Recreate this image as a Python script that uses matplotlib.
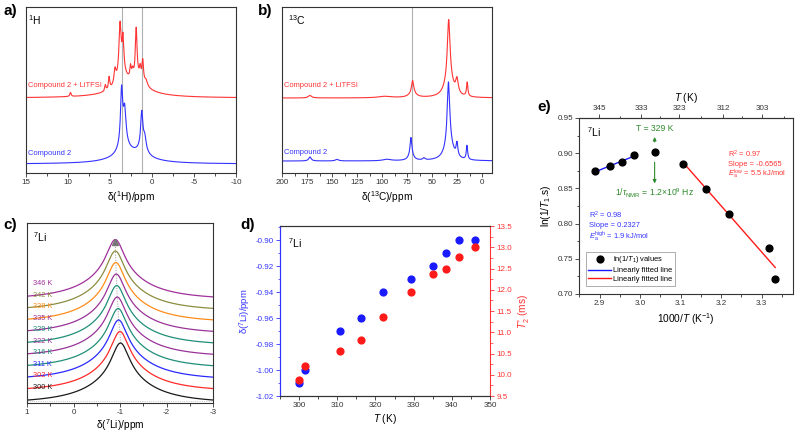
import numpy as np
import matplotlib.pyplot as plt

plt.rcParams['font.family'] = ['Liberation Sans', 'DejaVu Sans']
plt.rcParams['mathtext.fontset'] = 'custom'
plt.rcParams['mathtext.rm'] = 'Liberation Sans'
plt.rcParams['mathtext.it'] = 'Liberation Sans:italic'
plt.rcParams['mathtext.bf'] = 'Liberation Sans:bold'
plt.rcParams['axes.unicode_minus'] = False

# ---------------- data ----------------
# 1H spectra: peak tables (position ppm, height, half width ppm)
h1_ref_pos = [3.62, 3.25, 1.22, 0.85, 3.4, 1.1, 2.5]
h1_ref_amp = [52, 30, 33, 10, 14, 10, 10]
h1_ref_wid = [0.15, 0.18, 0.15, 0.18, 0.6, 0.5, 2.5]

h1_li_pos = [9.7, 5.55, 5.1, 4.4, 3.8, 3.45, 2.55, 2.3, 1.88, 1.4, 1.1, 0.7, 3.5, 1.5, 2.5]
h1_li_amp = [4, 6, 12, 14, 52, 33, 12, 8, 50, 10, 20, 5, 14, 10, 8]
h1_li_wid = [0.09, 0.09, 0.09, 0.14, 0.16, 0.12, 0.1, 0.12, 0.12, 0.1, 0.1, 0.18, 0.8, 0.8, 3.0]

h1_marks = [3.57, 1.2]

# 13C spectra
c13_ref_pos = [33.5, 33.0, 25.0, 15.0, 71.0, 71.0, 58.0, 172.0, 145.0, 95.0]
c13_ref_amp = [62, 17, 13, 14, 18, 5, 2, 4, 1.5, 1.5]
c13_ref_wid = [1.5, 5.0, 1.0, 0.8, 1.1, 3.0, 1.5, 1.5, 2.0, 5.0]

c13_li_pos = [33.3, 33.0, 25.0, 14.8, 69.3, 69.5, 172.0, 97.0]
c13_li_amp = [60, 18, 14, 14, 12, 5, 2.5, 1.5]
c13_li_wid = [1.6, 5.0, 1.5, 0.8, 1.2, 4.0, 2.0, 8.0]

c13_marks = [70.3]

# 7Li variable temperature
temp_labels = [300, 302, 311, 316, 322, 329, 335, 338, 342, 346]
temp_meas = [300.0, 301.5, 310.6, 316.1, 321.9, 329.4, 335.1, 338.4, 341.9, 346.2]
li_shift = [-1.01, -1.00, -0.97, -0.96, -0.94, -0.93, -0.92, -0.91, -0.90, -0.90]
t2_star = [9.88, 10.21, 10.57, 10.81, 11.35, 11.95, 12.38, 12.50, 12.77, 13.00]
li_colors = ['#1a1a1a', '#ff2a2a', '#2a2aff', '#1f8f78', '#993399',
             '#1f8f78', '#993399', '#ff8c1a', '#8c8c40', '#a0309a']
# line shape: narrow + broad Lorentzian (height, half width)
li_amp = [36, 25]
li_wid = [0.24, 0.8]

# T1 relaxation
ln_inv_t1 = [0.722, 0.765, 0.813, 0.849, 0.885, 0.902, 0.897, 0.887, 0.8816, 0.874]
top_temps = [345, 333, 323, 312, 303]

TICK = 5.8
LAB = 7.3
ANN = 5.4


def lorentz_sum(x, pos, amp, wid):
    y = np.zeros_like(x)
    for p, a, w in zip(pos, amp, wid):
        y += a / (1 + ((x - p) / w) ** 2)
    return y


def frame(ax, col='#333333'):
    for s in ax.spines.values():
        s.set_color(col)
        s.set_linewidth(0.8)
    ax.tick_params(colors='#333333', labelsize=TICK, length=3, width=0.6, pad=1.5)
    ax.tick_params(which='minor', length=1.8, width=0.5)


fig = plt.figure(figsize=(8, 4.36), dpi=100)

# ---------------- a) 1H ----------------
ax_a = fig.add_axes([0.0325, 0.6032, 0.2625, 0.3807])
xh = np.linspace(-10, 15, 4000)
ax_a.plot(xh, 9 + lorentz_sum(xh, h1_ref_pos, h1_ref_amp, h1_ref_wid), color='#3333ff', lw=0.8)
ax_a.plot(xh, 75 + lorentz_sum(xh, h1_li_pos, h1_li_amp, h1_li_wid), color='#ff3333', lw=0.8)
for m in h1_marks:
    ax_a.axvline(m, color='#b0b0b0', lw=0.8, zorder=0)
ax_a.set_xlim(15, -10)
ax_a.set_ylim(0, 166)
ax_a.set_yticks([])
ax_a.set_xticks([15, 10, 5, 0, -5, -10])
ax_a.set_xticks(np.arange(-7.5, 15, 5), minor=True)
frame(ax_a)
ax_a.set_xlabel(r'δ($^{1}$H)/ppm', fontsize=LAB, labelpad=2)
ax_a.text(0.01, 0.92, r'$^{1}$H', transform=ax_a.transAxes, fontsize=7.5, va='center')
ax_a.text(0.01, 0.53, 'Compound 2 + LiTFSI', transform=ax_a.transAxes, fontsize=ANN,
          color='#ff3333', va='center')
ax_a.text(0.01, 0.115, 'Compound 2', transform=ax_a.transAxes, fontsize=ANN,
          color='#3333ff', va='center')

# ---------------- b) 13C ----------------
ax_b = fig.add_axes([0.3525, 0.6032, 0.2625, 0.3807])
xc = np.linspace(-10, 200, 6000)
ax_b.plot(xc, 12 + lorentz_sum(xc, c13_ref_pos, c13_ref_amp, c13_ref_wid), color='#3333ff', lw=0.8)
ax_b.plot(xc, 75 + lorentz_sum(xc, c13_li_pos, c13_li_amp, c13_li_wid), color='#ff3333', lw=0.8)
for m in c13_marks:
    ax_b.axvline(m, color='#b0b0b0', lw=0.8, zorder=0)
ax_b.set_xlim(200, -10)
ax_b.set_ylim(0, 166)
ax_b.set_yticks([])
ax_b.set_xticks(np.arange(200, -1, -25))
ax_b.set_xticks(np.arange(187.5, 0, -25), minor=True)
frame(ax_b)
ax_b.set_xlabel(r'δ($^{13}$C)/ppm', fontsize=LAB, labelpad=2)
ax_b.text(0.03, 0.92, r'$^{13}$C', transform=ax_b.transAxes, fontsize=7.5, va='center')
ax_b.text(0.01, 0.53, 'Compound 2 + LiTFSI', transform=ax_b.transAxes, fontsize=ANN,
          color='#ff3333', va='center')
ax_b.text(0.01, 0.125, 'Compound 2', transform=ax_b.transAxes, fontsize=ANN,
          color='#3333ff', va='center')

# ---------------- c) 7Li spectra ----------------
ax_c = fig.add_axes([0.03375, 0.0757, 0.2325, 0.4128])
xl = np.linspace(-3, 1, 1500)
edge = lorentz_sum(np.array([1.0]), [0, 0], li_amp, li_wid)[0]
tops_x, tops_y = [], []
for i, (t, d, col) in enumerate(zip(temp_labels, li_shift, li_colors)):
    base = 10.7 + i * 11.5
    y = base - edge + lorentz_sum(xl, [d, d], li_amp, li_wid)
    ax_c.plot(xl, y, color=col, lw=0.9)
    ax_c.text(0.88, base + 1.5, f'{t} K', color=col, fontsize=5.3, va='bottom', ha='left')
    tops_x.append(d)
    tops_y.append(base - edge + sum(li_amp))
ax_c.plot(tops_x, tops_y, color='#999999', lw=0.7, ls=':', zorder=0)
ax_c.plot(tops_x[-1], tops_y[-1] - 2.5, marker='^', color='#777777', ms=4)
ax_c.axhline(1.5, color='#bbbbbb', lw=0.6, ls=':')
ax_c.set_xlim(1, -3)
ax_c.set_ylim(0, 180)
ax_c.set_yticks([])
ax_c.set_xticks([1, 0, -1, -2, -3])
ax_c.set_xticks([0.5, -0.5, -1.5, -2.5], minor=True)
frame(ax_c)
ax_c.set_xlabel(r'δ($^{7}$Li)/ppm', fontsize=LAB, labelpad=1)
ax_c.text(0.03, 0.92, r'$^{7}$Li', transform=ax_c.transAxes, fontsize=7.5, va='center')

# ---------------- d) shift and T2* ----------------
ax_d = fig.add_axes([0.35, 0.0917, 0.2625, 0.3899])
ax_d2 = ax_d.twinx()
ax_d.scatter(temp_meas, li_shift, s=24, color='#1a1aff', zorder=3)
ax_d2.scatter(temp_meas, t2_star, s=24, color='#ff1a1a', zorder=3)
ax_d.set_xlim(295, 350)
ax_d.set_ylim(-1.02, -0.889)
ax_d2.set_ylim(9.5, 13.5)
ax_d.set_xticks(np.arange(300, 351, 10))
ax_d.set_xticks(np.arange(295, 351, 5), minor=True)
ax_d.set_yticks(np.arange(-1.02, -0.889, 0.02))
ax_d.set_yticks(np.arange(-1.01, -0.889, 0.02), minor=True)
ax_d.set_yticklabels([f'{v:.2f}' for v in np.arange(-1.02, -0.889, 0.02)])
ax_d2.set_yticks(np.arange(9.5, 13.51, 0.5))
ax_d2.set_yticks(np.arange(9.75, 13.5, 0.5), minor=True)
frame(ax_d)
frame(ax_d2)
ax_d.spines['left'].set_color('#3333ff')
ax_d2.spines['left'].set_color('#3333ff')
ax_d.spines['right'].set_visible(False)
ax_d2.spines['right'].set_color('#ff3333')
ax_d.tick_params(axis='y', which='both', colors='#3333ff')
ax_d2.tick_params(axis='y', which='both', colors='#ff3333')
ax_d.set_xlabel('$T$ (K)', fontsize=LAB, labelpad=2)
ax_d.set_ylabel(r'δ($^{7}$Li)/ppm', fontsize=6.8, color='#3333ff', labelpad=2)
ax_d2.set_ylabel(r'$T_2^{\ast}$ (ms)', fontsize=LAB, color='#ff3333', labelpad=3)
ax_d.text(0.04, 0.9, r'$^{7}$Li', transform=ax_d.transAxes, fontsize=7.5, va='center')

# ---------------- e) T1 Arrhenius ----------------
ax_e = fig.add_axes([0.7241, 0.3257, 0.2671, 0.4037])
inv_t = 1000.0 / np.array(temp_meas)
ln_t1 = np.array(ln_inv_t1)
ax_e.scatter(inv_t, ln_t1, s=24, color='black', zorder=3, label='ln(1/$T_1$) values')
hi = slice(6, 10)
lo = slice(0, 5)
p_hi = np.polyfit(inv_t[hi], ln_t1[hi], 1)
p_lo = np.polyfit(inv_t[lo], ln_t1[lo], 1)
xs_hi = np.array([inv_t[hi].min(), inv_t[hi].max()])
xs_lo = np.array([inv_t[lo].min(), inv_t[lo].max()])
ax_e.plot(xs_hi, np.polyval(p_hi, xs_hi), color='#1a1aff', lw=1.0, label='Linearly fitted line')
ax_e.plot(xs_lo, np.polyval(p_lo, xs_lo), color='#ff1a1a', lw=1.0, label='Linearly fitted line')
ax_e.set_xlim(2.852, 3.377)
ax_e.set_ylim(0.70, 0.95)
ax_e.set_xticks([2.9, 3.0, 3.1, 3.2, 3.3])
ax_e.set_xticks([2.85, 2.95, 3.05, 3.15, 3.25, 3.35], minor=True)
ax_e.set_yticks([0.70, 0.75, 0.80, 0.85, 0.90, 0.95])
ax_e.set_yticks(np.arange(0.725, 0.95, 0.05), minor=True)
frame(ax_e)
ax_e.set_xlabel('1000/$T$ (K$^{-1}$)', fontsize=LAB, labelpad=3)
ax_e.set_ylabel('ln(1/$T_1$.s)', fontsize=LAB, labelpad=3)

top = ax_e.secondary_xaxis('top', functions=(lambda x: 1000.0 / x, lambda x: 1000.0 / x))
top.set_xticks(top_temps)
top.set_xticks([339, 328, 317.5, 307.5, 298], minor=True)
top.set_xticklabels([str(t) for t in top_temps])
for s in top.spines.values():
    s.set_color('#333333')
    s.set_linewidth(0.8)
top.tick_params(colors='#333333', labelsize=TICK, length=3, width=0.6, pad=1.5)
top.tick_params(which='minor', length=1.8, width=0.5)
top.set_xlabel('$T$ (K)', fontsize=LAB, labelpad=3)

ax_e.text(0.035, 0.92, r'$^{7}$Li', transform=ax_e.transAxes, fontsize=7.5, va='center')
green = '#2e8b2e'
ax_e.text(inv_t[5], 0.935, 'T = 329 K', color=green, fontsize=6.2, ha='center', va='center')
ax_e.text(inv_t[5], 0.843, r'1/$τ_\mathrm{NMR}$ = 1.2×10$^{9}$ Hz', color=green,
          fontsize=6.2, ha='center', va='center')
ax_e.annotate('', xy=(inv_t[5], 0.927), xytext=(inv_t[5], 0.912),
              arrowprops=dict(arrowstyle='-|>', color=green, lw=0.8, mutation_scale=5))
ax_e.annotate('', xy=(inv_t[5], 0.853), xytext=(inv_t[5], 0.891),
              arrowprops=dict(arrowstyle='-|>', color=green, lw=0.8, mutation_scale=5))
red_txt = ['R$^{2}$ = 0.97', 'Slope = -0.6565', r'$E_\mathrm{a}^\mathrm{low}$ = 5.5 kJ/mol']
for k, s in enumerate(red_txt):
    ax_e.text(3.217, 0.899 - k * 0.0145, s, color='#ff3333', fontsize=ANN, va='center')
blue_txt = ['R$^{2}$ = 0.98', 'Slope = 0.2327', r'$E_\mathrm{a}^\mathrm{high}$ = 1.9 kJ/mol']
for k, s in enumerate(blue_txt):
    ax_e.text(2.873, 0.811 - k * 0.0142, s, color='#3333ff', fontsize=ANN, va='center')
leg = ax_e.legend(loc='upper left', bbox_to_anchor=(0.03, 0.24), fontsize=ANN, frameon=True,
                  fancybox=False, handlelength=3.0, handletextpad=0.3, borderpad=0.35,
                  labelspacing=0.2, borderaxespad=0)
leg.get_frame().set_edgecolor('#888888')
leg.get_frame().set_linewidth(0.6)

# panel letters
for lab, x, y in [('a)', 0.004, 0.975), ('b)', 0.322, 0.975), ('c)', 0.004, 0.483),
                  ('d)', 0.300, 0.483), ('e)', 0.672, 0.755)]:
    fig.text(x, y, lab, fontsize=11, fontweight='bold', va='center')

fig.savefig('out.png', dpi=100)
